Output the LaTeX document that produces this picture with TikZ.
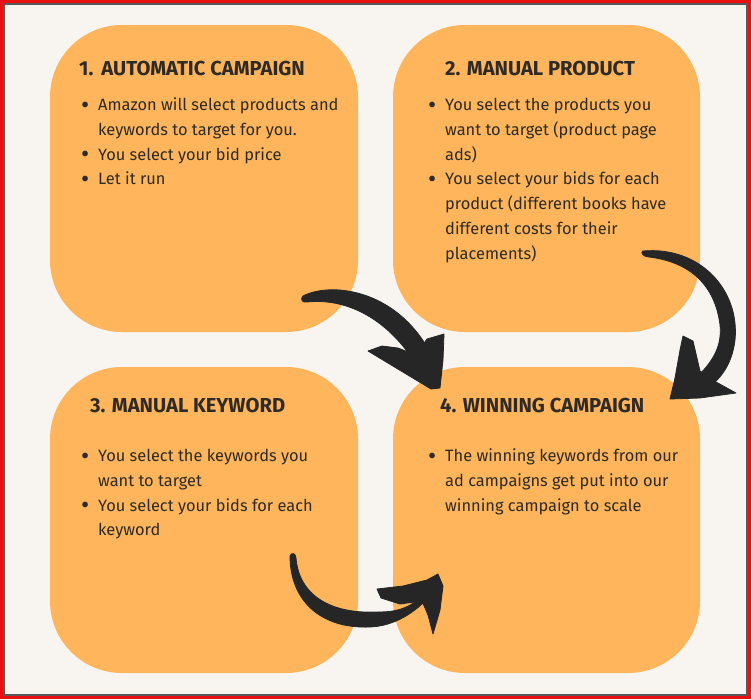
\documentclass[tikz,border=0pt]{standalone}
\usepackage{fontspec}
\setmainfont{Fira Sans}
\definecolor{bgc}{HTML}{F8F5F0}
\definecolor{boxc}{HTML}{FEB55B}
\definecolor{txtc}{HTML}{2E2A26}
\definecolor{arrc}{HTML}{262626}
\definecolor{framec}{HTML}{E8110F}
\tikzset{
  card/.style={fill=boxc, draw=none, rounded corners=72pt},
  ttl/.style={anchor=base west, inner sep=0pt, text=txtc, font=\fontsize{20.2}{22}\selectfont\bfseries},
  bodytxt/.style={anchor=base west, inner sep=0pt, text=txtc},
  brush/.style={fill=arrc, draw=arrc, line width=0.8pt, line join=round},
}
\newcommand{\bl}{\makebox[18pt][l]{\hspace{1pt}\raisebox{-2.6pt}{\fontsize{25}{25}\selectfont\textbullet}}}
\newcommand{\ind}{\hspace*{18pt}}
\newcommand{\bodyfont}{\fontsize{16.4}{24.8}\selectfont}
\begin{document}
\begin{tikzpicture}[x=1pt,y=-1pt]
\useasboundingbox (0,0) rectangle (751,699);
% frame
\fill[framec] (0,0) rectangle (751,699);
\fill[bgc, draw=black!65, line width=1.5pt] (4,4) rectangle (747,695);
% cards
\fill[card] (50,25) rectangle (358,332);
\fill[card] (393,25) rectangle (700,332);
\fill[card] (50,367) rectangle (358,673);
\fill[card] (393,367) rectangle (700,673);
% titles
\node[ttl] (t1) at (79,75) {1.\hspace{8pt}AUTOMATIC CAMPAIGN};
\node[ttl] (t2) at (445,75) {2. MANUAL PRODUCT};
\node[ttl] (t3) at (90,412) {3. MANUAL KEYWORD};
\node[ttl] (t4) at (440,412) {4. WINNING CAMPAIGN};
% bodies
\node[bodytxt] (b1) at (80,110.5) {\parbox[t]{270pt}{\bodyfont
\bl Amazon will select products and\\
\ind keywords to target for you.\\
\bl You select your bid price\\
\bl Let it run}};
\node[bodytxt] (b2) at (427,110.5) {\parbox[t]{270pt}{\bodyfont
\bl You select the products you\\
\ind want to target (product page\\
\ind ads)\\
\bl You select your bids for each\\
\ind product (different books have\\
\ind different costs for their\\
\ind placements)}};
\node[bodytxt] (b3) at (80,461.5) {\parbox[t]{270pt}{\bodyfont
\bl You select the keywords you\\
\ind want to target\\
\bl You select your bids for each\\
\ind keyword}};
\node[bodytxt] (b4) at (427,461.5) {\parbox[t]{270pt}{\bodyfont
\bl The winning keywords from our\\
\ind ad campaigns get put into our\\
\ind winning campaign to scale}};
% arrow A (card 1 -> card 4)
\path[brush] (303,296) .. controls (330,282) and (395,288) .. (430,352)
  -- (440,378) -- (424,378)
  .. controls (398,328) and (355,297) .. (307,302)
  .. controls (302,303) and (300,299) .. (303,296) -- cycle;
\path[brush] (368,351) -- (382,346) -- (398,348) -- (416,355) -- (427,339)
  -- (444,334) -- (443,360) -- (440,388) -- (431,389) -- cycle;
% arrow B (card 2 -> card 4)
\path[brush] (643,251) .. controls (700,246) and (740,290) .. (735,340)
  .. controls (732,365) and (720,380) .. (705,390)
  -- (698,376) .. controls (714,360) and (722,345) .. (720,325)
  .. controls (715,285) and (690,262) .. (649,257)
  .. controls (643,257) and (640,252) .. (643,251) -- cycle;
\path[brush] (670,399) -- (675,378) -- (680,350) -- (683,336) -- (693,341)
  -- (700,371) -- (716,382) -- (736,393) -- (700,398) -- cycle;
% arrow C (card 3 -> card 4)
\path[brush] (290,556) .. controls (290,600) and (320,629) .. (370,627)
  .. controls (395,626) and (415,612) .. (428,598)
  -- (415,602) .. controls (402,611) and (390,612) .. (377,612)
  .. controls (330,614) and (299,595) .. (296,558)
  .. controls (296,553) and (291,552) .. (290,556) -- cycle;
\path[brush] (377,589) -- (403,586) -- (427,580) -- (438,574) -- (443,586)
  -- (440,610) -- (433,634) -- (428,615) -- (422,601) -- (400,604)
  -- (381,598) -- cycle;
\end{tikzpicture}
\end{document}
